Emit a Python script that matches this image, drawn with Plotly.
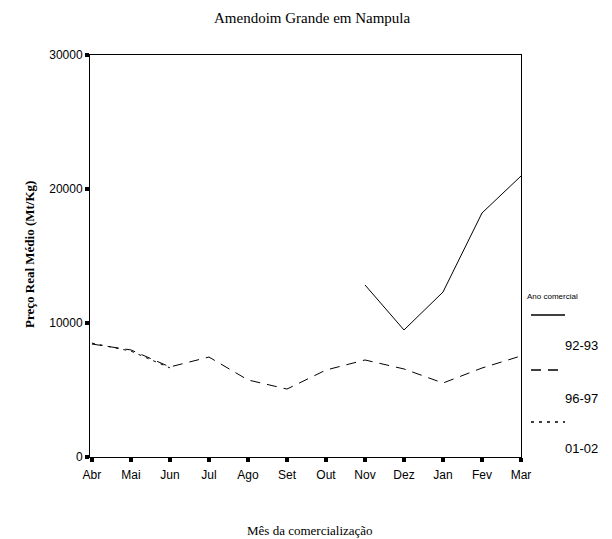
import plotly.graph_objects as go

months = ["Abr", "Mai", "Jun", "Jul", "Ago", "Set", "Out", "Nov", "Dez", "Jan", "Fev", "Mar"]
series_names = ["92-93", "96-97", "01-02"]
s_92_93 = [None, None, None, None, None, None, None, 12840, 9480, 12310, 18210, 20970]
s_96_97 = [8430, 7990, 6720, 7460, 5750, 5070, 6490, 7240, 6570, 5520, 6640, 7540]
s_01_02 = [8500, 7900, 6650, None, None, None, None, None, None, None, None, None]
y_ticks = [0, 10000, 20000, 30000]

dashes = ["solid", "10px,7px", "3px,5px"]

OFF = 8  # browser body margin
W, H = 612 - OFF, 539 - OFF
# plot area in screen pixels
L, R, T, B = 90, 521, 55, 457

def px_x(px):
    return (px - L) / (R - L)

def px_y(py):
    return (B - py) / (B - T)

fig = go.Figure()
for name, vals, d in zip(series_names, [s_92_93, s_96_97, s_01_02], dashes):
    fig.add_trace(go.Scatter(
        x=list(range(len(months))), y=vals, mode="lines", name=name,
        line=dict(color="black", width=1, dash=d), connectgaps=False,
        showlegend=False, hoverinfo="skip"))

fig.update_layout(
    width=W, height=H,
    margin=dict(l=L - OFF, r=612 - R, t=T - OFF, b=539 - B),
    paper_bgcolor="white", plot_bgcolor="white",
    font=dict(family="Liberation Sans, Arial, sans-serif", size=12, color="black"),
    showlegend=False,
)
fig.update_xaxes(
    tickmode="array", tickvals=list(range(len(months))), ticktext=months,
    range=[-0.05, 11.0], showgrid=False, zeroline=False,
    showline=True, linecolor="black", linewidth=1, mirror=True,
    ticks="outside", ticklen=4, tickwidth=4, tickcolor="black",
    ticklabelstandoff=3,
    tickfont=dict(size=12, family="Liberation Sans, Arial, sans-serif"))
fig.update_yaxes(
    tickmode="array", tickvals=y_ticks, ticktext=[str(v) for v in y_ticks],
    range=[0, 30000], showgrid=False, zeroline=False,
    showline=True, linecolor="black", linewidth=1, mirror=True,
    ticks="outside", ticklen=4, tickwidth=4, tickcolor="black",
    tickfont=dict(size=12, family="Liberation Sans, Arial, sans-serif"))

ann = []
def add_text(text, sx, sy, size, family=None, xanchor="center", angle=0):
    f = dict(size=size)
    if family:
        f["family"] = family
    ann.append(dict(text=text, xref="paper", yref="paper", x=px_x(sx), y=px_y(sy),
                    xanchor=xanchor, yanchor="middle", showarrow=False,
                    textangle=angle, font=f))

serif = "Liberation Serif, Times New Roman, serif"
add_text("Amendoim Grande em Nampula", 312, 18, 15, serif)
add_text("Mês da comercialização", 310, 530, 13, serif)
add_text("<b>Preço Real Médio (Mt/Kg)</b>", 30, 255, 13, serif, angle=-90)
# custom legend
add_text("Ano comercial", 525, 296, 8, xanchor="left")
leg_line_y = [315, 370, 422]
leg_lab_y = [345, 398, 448]
shapes = []
for name, d, ly, ty in zip(series_names, dashes, leg_line_y, leg_lab_y):
    shapes.append(dict(type="line", xref="paper", yref="paper",
                       x0=px_x(531), x1=px_x(565), y0=px_y(ly), y1=px_y(ly),
                       line=dict(color="black", width=1.3, dash=d)))
    add_text(name, 600, ty, 13, xanchor="right")
fig.update_layout(annotations=ann, shapes=shapes)

fig.write_html("out.html")
